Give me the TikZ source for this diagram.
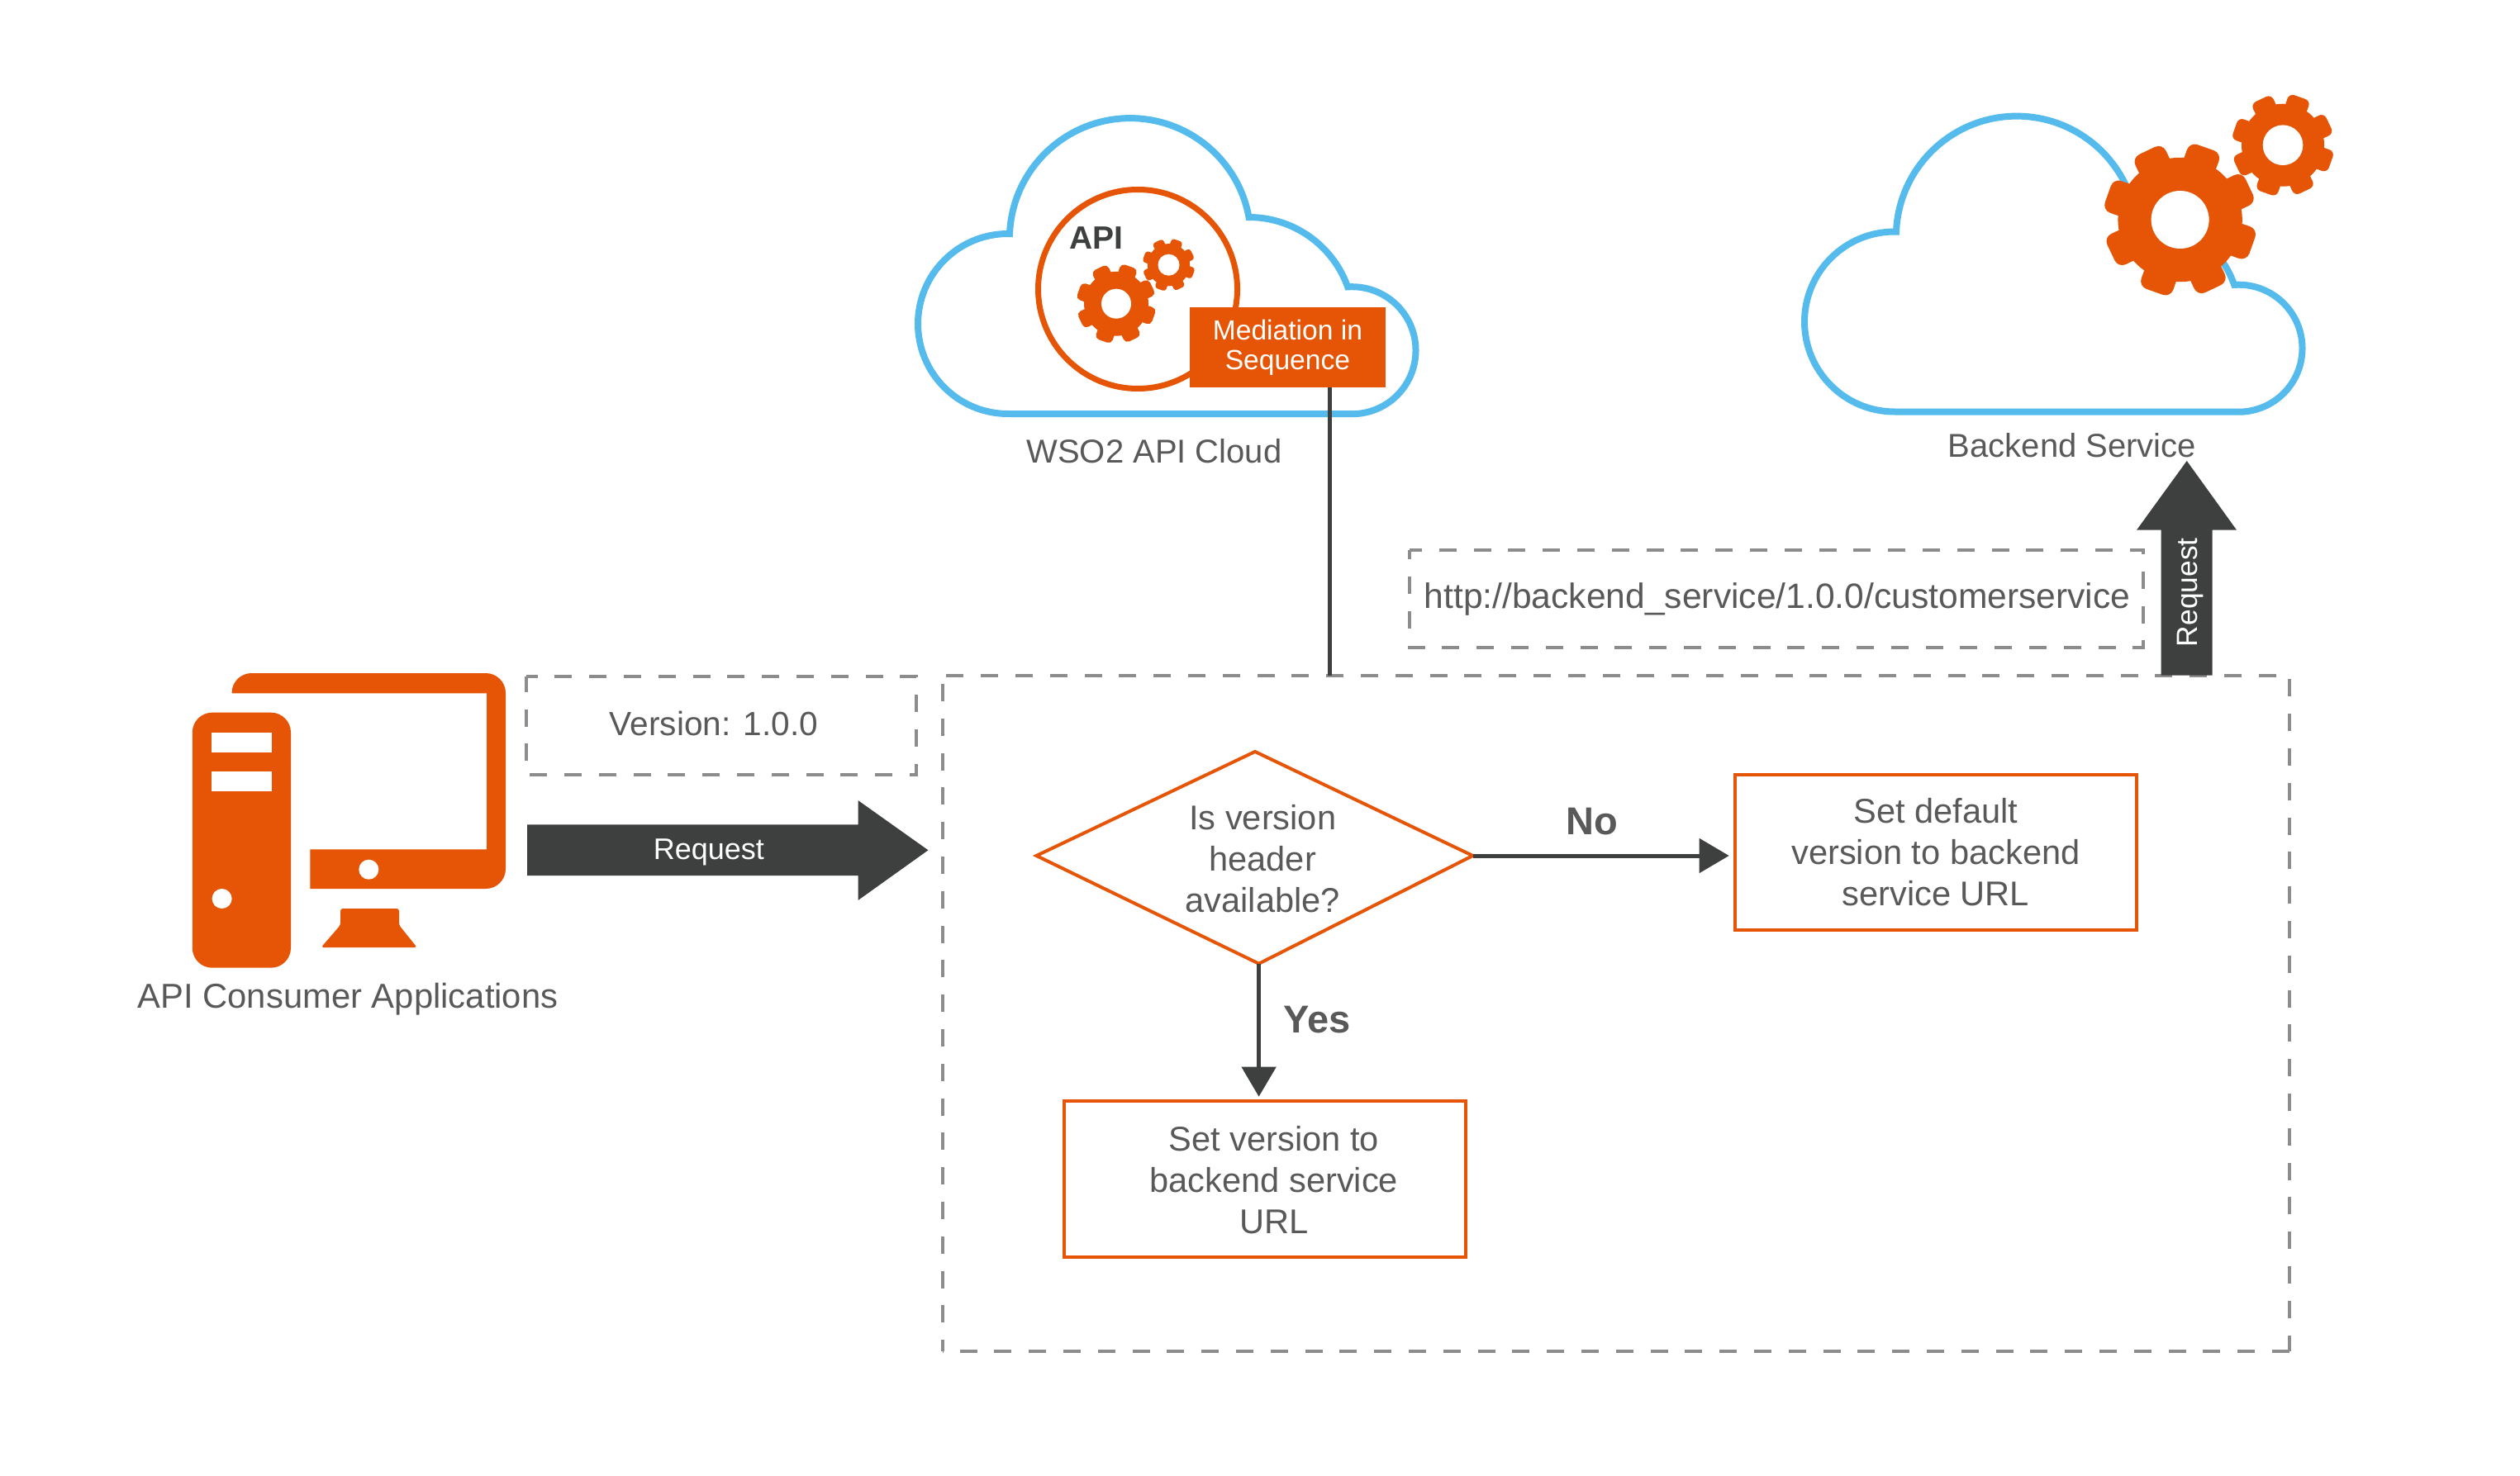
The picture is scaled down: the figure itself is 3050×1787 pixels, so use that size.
\documentclass[tikz,border=0pt]{standalone}
\usepackage{fontspec}
\setmainfont{Liberation Sans}
\usetikzlibrary{arrows.meta}
\definecolor{accent}{HTML}{E65505}
\definecolor{darkc}{HTML}{3E4040}
\definecolor{txtgray}{HTML}{595959}
\definecolor{cloudblue}{HTML}{55BBED}
\definecolor{dashgray}{HTML}{8C8C8C}
\newcommand{\upx}{0.5pt}
\tikzset{
  lbl/.style={text=txtgray,font=\fontsize{20}{25}\selectfont,anchor=base,inner sep=0pt,align=center},
  multi/.style={text=txtgray,font=\fontsize{20.8}{25}\selectfont,inner sep=0pt,align=center},
  cloudline/.style={draw=cloudblue,line width=4pt,miter limit=10},
  flowbox/.style={draw=accent,line width=2pt,inner sep=0pt},
  dashline/.style={draw=dashgray,line width=2pt,dash pattern=on 10.5pt off 10.4pt},
  dashbox/.style={inner sep=0pt,outer sep=0pt},
  conn/.style={draw=darkc,line width=2.5pt},
  whiteon/.style={text=white,inner sep=0pt,anchor=base},
  boldlbl/.style={anchor=base,inner sep=0pt,font=\fontsize{23.5}{25}\selectfont\bfseries,text=txtgray},
}
\newcommand{\gearat}[4]{%
  \begin{scope}[shift={(#1,#2)}]
    \fill[accent] (0,0) circle[radius=0.82*#3];
    \foreach \a in {19.5,64.5,109.5,154.5,199.5,244.5,289.5,334.5}{
      \fill[accent,rounded corners=0.11*#3*\upx]
        ({\a-18}:0.72*#3) -- ({\a-12.5}:1.035*#3) -- ({\a+12.5}:1.035*#3) -- ({\a+18}:0.72*#3) -- cycle;
    }
    \fill[white] (0,0) circle[radius=#4];
  \end{scope}}
\newcommand{\cloudat}[2]{%
  \begin{scope}[shift={(#1,#2)}]
    \draw[cloudline,fill=white] (1220,501)
      arc[start angle=90,end angle=270,radius=109]
      -- (1222,283)
      arc[start angle=182.4,end angle=349.7,radius=146]
      arc[start angle=270,end angle=340.4,radius=127]
      arc[start angle=266,end angle=450,radius=77]
      -- cycle;
  \end{scope}}
\begin{document}
\begin{tikzpicture}[x=0.5pt,y=-0.5pt]
\useasboundingbox (0,0) rectangle (3050,1787);
% clouds
\cloudat{0}{0}
\cloudat{1073}{-2.5}
% API circle and gears
\node[circle,draw=accent,line width=3.5pt,minimum size=241*\upx,inner sep=0pt] (apicircle) at (1377,350) {};
\node[anchor=base,inner sep=0pt,text=darkc,font=\fontsize{19.5}{22}\selectfont\bfseries] (apilabel) at (1326.5,301.7) {API};
\gearat{1351}{367.7}{47.5}{18}
\gearat{1414.5}{320.7}{31.3}{13}
% Backend gears
\gearat{2638.6}{266}{91.7}{35}
\gearat{2763}{175.7}{61}{24.3}
% Mediation
\node[fill=accent,text=white,inner sep=0pt,minimum width=237.3*\upx,minimum height=97*\upx,align=center,font=\fontsize{16.8}{18}\selectfont] (med) at (1558.4,420.5) {Mediation in\\Sequence};
\node[lbl] (wso2) at (1397,560.7) {WSO2 API Cloud};
\node[lbl] (backend) at (2508,553) {Backend Service};
% computer
\fill[accent,rounded corners=12pt] (232.8,862.7) rectangle (352,1171.7);
\fill[white] (256,886.7) rectangle (329,910.7);
\fill[white] (256,934) rectangle (329,957.7);
\fill[white] (268.6,1088) circle[radius=12];
\fill[accent] (280.5,839.3) [rounded corners=12pt] -- (280.5,815) -- (612,815) -- (612,1076) [sharp corners] -- (375.4,1076) -- (375.4,1028.3) -- (589,1028.3) -- (589,839.3) -- cycle;
\fill[white] (446.3,1052.7) circle[radius=12];
\fill[accent,rounded corners=1.5pt] (412,1100) -- (483,1100) -- (483,1120) -- (504.7,1147) -- (388.6,1147) -- (412,1120) -- cycle;
\node[lbl,font=\fontsize{20.9}{25}\selectfont] (consumer) at (421,1220.7) {API Consumer Applications};
% version box
\node[dashbox,minimum width=472.4*\upx,minimum height=118.7*\upx] (vbox) at (872.8,878.35) {};
\draw[dashline,dash phase=3.5pt] (vbox.north west) -- (vbox.north east) -- (vbox.south east) -- (vbox.south west) -- cycle;
\node[lbl,font=\fontsize{20.3}{25}\selectfont] (vtext) at (864,890) {Version: 1.0.0};
% big dashed container
\node[dashbox,minimum width=1630.4*\upx,minimum height=818.3*\upx] (big) at (1955.8,1226.85) {};
\draw[dashline,dash phase=18.5pt] (big.north west) -- (big.north east) -- (big.south east);
\draw[dashline] (big.south east) -- (big.south west);
\draw[dashline,dash phase=3.6pt] (big.south west) -- (big.north west);
% url box
\node[dashbox,minimum width=887.9*\upx,minimum height=118.3*\upx] (ubox) at (2149.65,724.85) {};
\draw[dashline,dash phase=2.85pt] (ubox.north west) -- (ubox.north east) -- (ubox.south east) -- (ubox.south west) -- cycle;
\node[lbl,font=\fontsize{21.3}{25}\selectfont] (utext) at (2151,736.7) {http://backend\_service/1.0.0/customerservice};
% horizontal request arrow
\fill[darkc] (638,998.3) -- (1038.5,998.3) -- (1038.5,969) -- (1123.4,1029.3) -- (1038.5,1090) -- (1038.5,1060) -- (638,1060) -- cycle;
\node[whiteon,font=\fontsize{18}{20}\selectfont] (req1) at (857.8,1040) {Request};
% vertical request arrow
\fill[darkc] (2615.7,817.7) -- (2615.7,641.7) -- (2586,641.7) -- (2646.7,558) -- (2707,641.7) -- (2677.7,641.7) -- (2677.7,817.7) -- cycle;
\node[whiteon,rotate=90,font=\fontsize{17.7}{20}\selectfont] (req2) at (2659,717.3) {Request};
% mediation connector
\coordinate (medout) at (1609.3,469);
\draw[conn] (medout) -- (medout |- big.north);
% diamond
\coordinate (dW) at (1254.4,1036);
\coordinate (dN) at (1519,910);
\coordinate (dE) at (1782.5,1036);
\coordinate (dS) at (1523.6,1166.7);
\draw[accent,line width=2pt,line join=miter] (dW) -- (dN) -- (dE) -- (dS) -- cycle;
\node[multi] (dtext) at (1528.2,1040) {Is version\\header\\available?};
% boxes
\node[flowbox,minimum width=485.7*\upx,minimum height=188*\upx,multi,text=txtgray] (b2) at (2342.85,1032) {Set default\\version to backend\\service URL};
\node[flowbox,minimum width=485.6*\upx,minimum height=188.4*\upx] (b1) at (1531.2,1427.5) {};
\node[multi] (b1text) at (1541.8,1429) {Set version to\\backend service\\URL};
% connectors
\draw[conn,-{Triangle[length=18pt,width=20.5pt]},shorten >=2.65pt] (dE) -- (dE -| b2.west);
\node[boldlbl] (nolabel) at (1927,1010) {No};
\draw[conn,-{Triangle[length=18pt,width=20.5pt]},shorten >=1.8pt] (dS) -- (dS |- b1.north);
\node[boldlbl] (yeslabel) at (1594,1250) {Yes};
\end{tikzpicture}
\end{document}
